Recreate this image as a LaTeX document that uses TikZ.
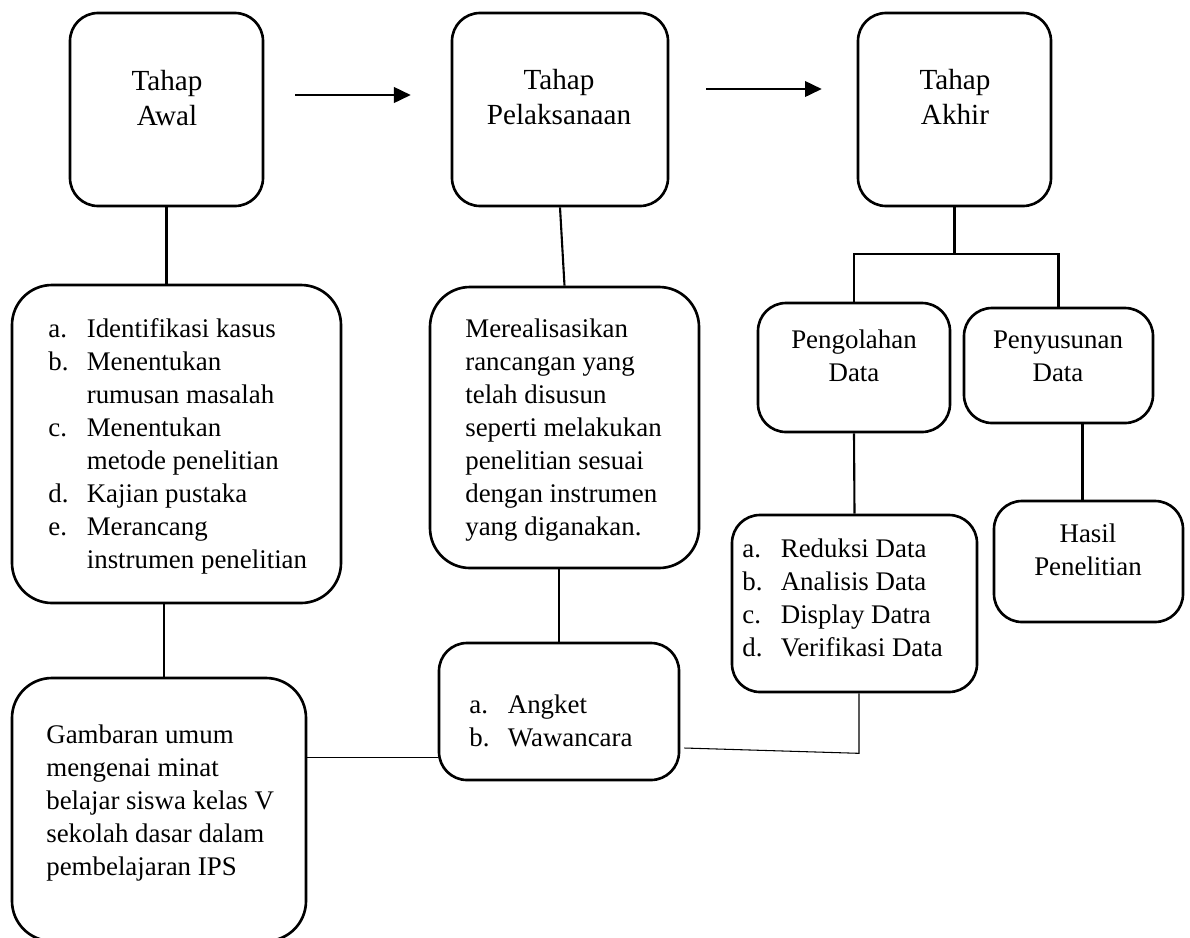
\documentclass[tikz,border=0pt]{standalone}
\usepackage{fontspec}
\setmainfont{Liberation Serif}
\usetikzlibrary{arrows.meta,fit}

\newcommand{\boxtext}[2]{\begin{tabular}[t]{@{}#1@{}}#2\end{tabular}}
\newcommand{\itemlist}[1]{\begin{tabular}[t]{@{}p{0.77cm}@{}l@{}}#1\end{tabular}}

\tikzset{
  box/.style={draw, line width=1.5pt, rounded corners=0.56cm, inner sep=0pt},
  bigbox/.style={box, rounded corners=0.8cm},
  link/.style={line width=1.2pt},
  thinlink/.style={line width=0.6pt},
  arr/.style={line width=0.75pt, -{Triangle[length=9.5pt,width=9pt]}},
  txt/.style={inner sep=0pt, font=\fontsize{15.3}{18.8}\selectfont},
  ttl/.style={inner sep=0pt, font=\fontsize{16.6}{20.4}\selectfont},
}

\begin{document}
\begin{tikzpicture}[x=0.02cm, y=-0.02cm]
  \useasboundingbox (0,0) rectangle (1190,937);

  % tahap
  \node[box, fit={(70,13) (263,206)}] (awal) {};
  \node[box, fit={(452,13) (668,206)}] (pelak) {};
  \node[box, fit={(858,13) (1051,206)}] (akhir) {};
  \node[ttl, anchor=base] (awalTxt) at (167,90) {\boxtext{c}{Tahap\\Awal}};
  \node[ttl, anchor=base] (pelakTxt) at (559,89) {\boxtext{c}{Tahap\\Pelaksanaan}};
  \node[ttl, anchor=base] (akhirTxt) at (955,89) {\boxtext{c}{Tahap\\Akhir}};

  % isi
  \node[bigbox, fit={(12,285) (341,603)}] (tugas) {};
  \node[bigbox, fit={(430,287) (699,568)}] (real) {};
  \node[box, fit={(758,303) (950,432)}] (olah) {};
  \node[box, fit={(964,308) (1153,423)}] (susun) {};
  \node[box, fit={(732,515) (977,692)}] (reduksi) {};
  \node[box, fit={(994,501) (1183,622)}] (hasil) {};
  \node[box, fit={(439,643) (679,780)}] (angket) {};
  \node[bigbox, fit={(12,678) (306,941)}] (gambar) {};

  \node[txt, anchor=base west] (tugasTxt) at (48,337) {\itemlist{
      a. & Identifikasi kasus\\
      b. & Menentukan\\
         & rumusan masalah\\
      c. & Menentukan\\
         & metode penelitian\\
      d. & Kajian pustaka\\
      e. & Merancang\\
         & instrumen penelitian}};
  \node[txt, anchor=base west] (realTxt) at (465,337) {\boxtext{l}{Merealisasikan\\
      rancangan yang\\telah disusun\\seperti melakukan\\penelitian sesuai\\
      dengan instrumen\\yang diganakan.}};
  \node[txt, anchor=base] (olahTxt) at (854,348) {\boxtext{c}{Pengolahan\\Data}};
  \node[txt, anchor=base] (susunTxt) at (1058,348) {\boxtext{c}{Penyusunan\\Data}};
  \node[txt, anchor=base west] (reduksiTxt) at (742,557) {\itemlist{
      a. & Reduksi Data\\b. & Analisis Data\\c. & Display Datra\\d. & Verifikasi Data}};
  \node[txt, anchor=base] (hasilTxt) at (1088,542) {\boxtext{c}{Hasil\\Penelitian}};
  \node[txt, anchor=base west] (angketTxt) at (469,713) {\itemlist{a. & Angket\\b. & Wawancara}};
  \node[txt, anchor=base west] (gambarTxt) at (46,743) {\boxtext{l}{Gambaran umum\\
      mengenai minat\\belajar siswa kelas V\\sekolah dasar dalam\\pembelajaran IPS}};

  % panah
  \draw[arr] ([shift={(31,-14.5)}]awal.east) -- ([shift={(-40,-14.5)}]pelak.west);
  \draw[arr] ([shift={(37,-20.5)}]pelak.east) -- ([shift={(-35,-20.5)}]akhir.west);

  % garis
  \draw[link] (awal.south) -- (awal.south |- tugas.north);
  \draw[link] (pelak.south) -- (real.north);
  \draw[link] (akhir.south) -- ++(0,47) coordinate (fork);
  \draw[link] (olah.north) |- (fork) -| (susun.north);
  \draw[link] (olah.south) -- (reduksi.north);
  \draw[link] ([shift={(-6,0)}]hasil.north) -- ([shift={(-6,0)}]hasil.north |- susun.south);
  \draw[thinlink] ([shift={(5,0)}]gambar.north) -- ([shift={(5,0)}]gambar.north |- tugas.south);
  \draw[thinlink] (angket.north) -- (angket.north |- real.south);
  \draw[thinlink] ([shift={(0,-52)}]gambar.east) -- ([shift={(0,-52)}]gambar.east -| angket.west);
  \draw[thinlink] ([shift={(4,36.5)}]angket.east) -- ([shift={(4.5,60)}]reduksi.south) -- ([shift={(4.5,0)}]reduksi.south);
\end{tikzpicture}
\end{document}
